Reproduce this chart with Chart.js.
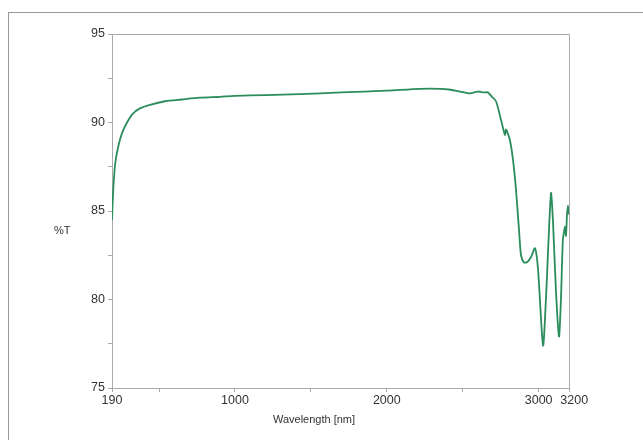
<!DOCTYPE html>
<html>
<head>
<meta charset="utf-8">
<script src="https://cdn.jsdelivr.net/npm/chart.js@4/dist/chart.umd.min.js"></script>
<style>
  html,body{margin:0;padding:0;background:#fff;}
  #wrap{position:relative;width:643px;height:440px;overflow:hidden;}
  #frame{position:absolute;left:8px;top:12px;width:700px;height:500px;border:1px solid #9a9a9a;box-sizing:border-box;}
  canvas{position:absolute;left:0;top:0;}
</style>
</head>
<body>
<div id="wrap">
  <div id="frame"></div>
  <canvas id="c" width="643" height="440"></canvas>
</div>
<script>
// Data (wavelength in nm, transmittance in %T)
const wavelengths = [190, 197, 210, 230, 256, 289, 328, 374, 440, 539, 650, 770, 900, 1000, 1200, 1428, 1700, 2001, 2219, 2350, 2420, 2482, 2548, 2600, 2640, 2666, 2693, 2719, 2745, 2765, 2778, 2785, 2792, 2811, 2831, 2851, 2871, 2884, 2903, 2923, 2950, 2976, 2996, 3029, 3048, 3081, 3094, 3114, 3134, 3147, 3160, 3174, 3180, 3187, 3193, 3200];
const transmittance = [84.5, 86.0, 87.6, 88.6, 89.4, 90.0, 90.5, 90.8, 91.0, 91.2, 91.3, 91.4, 91.45, 91.5, 91.55, 91.6, 91.7, 91.8, 91.9, 91.9, 91.85, 91.75, 91.65, 91.75, 91.7, 91.7, 91.45, 91.2, 90.4, 89.7, 89.3, 89.6, 89.5, 89.0, 87.9, 86.2, 83.9, 82.5, 82.1, 82.1, 82.4, 82.9, 81.7, 77.4, 80.0, 86.0, 84.5, 80.5, 77.9, 80.0, 83.4, 84.1, 83.6, 84.8, 85.3, 84.8];
const xTickValues = [190, 500, 1000, 1500, 2000, 2500, 3000, 3200];
const xTickLabels = ['190', '', '1000', '', '2000', '', '3000', '3200'];
const yTickValues = [75, 77.5, 80, 82.5, 85, 87.5, 90, 92.5, 95];
const yTickLabels = ['75', '', '80', '', '85', '', '90', '', '95'];
const xTitle = 'Wavelength [nm]';
const yTitle = '%T';

const points = wavelengths.map((w, i) => ({x: w, y: transmittance[i]}));
const tickFont = {family: '"Liberation Sans", Arial, sans-serif', size: 12.5};
const textColor = '#333';
const axisColor = '#aaaaaa';

const extrasPlugin = {
  id: 'extras',
  afterDraw(chart) {
    const ctx = chart.ctx;
    const a = chart.chartArea;
    ctx.save();
    // plot box (top and right edges)
    ctx.strokeStyle = axisColor;
    ctx.lineWidth = 1;
    ctx.beginPath();
    ctx.moveTo(a.left, a.top + 0.5);
    ctx.lineTo(a.right + 0.5, a.top + 0.5);
    ctx.lineTo(a.right + 0.5, a.bottom);
    ctx.stroke();
    // axis titles
    ctx.font = '11px "Liberation Sans", Arial, sans-serif';
    ctx.fillStyle = textColor;
    ctx.textBaseline = 'middle';
    ctx.textAlign = 'left';
    ctx.fillText(yTitle, 54, chart.scales.y.getPixelForValue(83.9));
    ctx.textAlign = 'center';
    ctx.fillText(xTitle, 314, 420);
    ctx.restore();
  }
};

new Chart(document.getElementById('c'), {
  type: 'line',
  data: {
    datasets: [{
      data: points,
      borderColor: '#2b8c5c',
      borderWidth: 1.8,
      pointRadius: 0,
      tension: 0.25,
      fill: false
    }]
  },
  options: {
    responsive: false,
    animation: false,
    layout: {padding: {left: 0, right: 74, top: 34, bottom: 12}},
    plugins: {legend: {display: false}, tooltip: {enabled: false}},
    scales: {
      x: {
        type: 'linear',
        min: 190, max: 3200,
        afterBuildTicks: (s) => { s.ticks = xTickValues.map(v => ({value: v})); },
        afterFit: (s) => { s.height = 40; },
        ticks: {
          autoSkip: false, maxRotation: 0, font: tickFont, color: textColor, padding: 1,
          callback: (v) => {
            const i = xTickValues.indexOf(v);
            if (i < 0) return '';
            return i === xTickValues.length - 1 ? '   ' + xTickLabels[i] : xTickLabels[i];
          }
        },
        grid: {drawOnChartArea: false, drawTicks: true, tickLength: 4, color: axisColor},
        border: {color: axisColor, width: 1}
      },
      y: {
        type: 'linear',
        min: 75, max: 95,
        afterBuildTicks: (s) => { s.ticks = yTickValues.map(v => ({value: v})); },
        afterFit: (s) => { s.width = 112; },
        ticks: {
          autoSkip: false, font: tickFont, color: textColor, padding: 3,
          callback: (v) => { const i = yTickValues.indexOf(v); return i >= 0 ? yTickLabels[i] : ''; }
        },
        grid: {drawOnChartArea: false, drawTicks: true, tickLength: 4, color: axisColor},
        border: {color: axisColor, width: 1}
      }
    }
  },
  plugins: [extrasPlugin]
});
</script>
</body>
</html>
